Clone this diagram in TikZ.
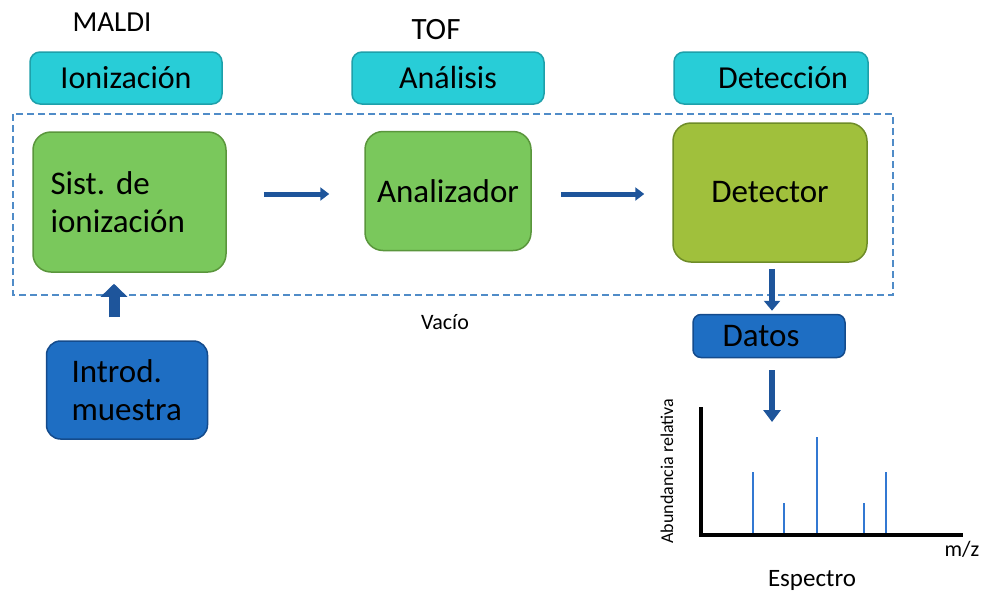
\documentclass[tikz,border=0pt]{standalone}
\usepackage{fontspec}
\setmainfont{Carlito}
\usetikzlibrary{arrows.meta, positioning}

\definecolor{phasecyan}{RGB}{40,205,215}
\definecolor{phaseedge}{RGB}{30,160,170}
\definecolor{unitgreen}{RGB}{122,200,92}
\definecolor{unitedge}{RGB}{90,150,60}
\definecolor{detgreen}{RGB}{160,192,60}
\definecolor{detedge}{RGB}{110,140,40}
\definecolor{boxblue}{RGB}{30,110,195}
\definecolor{boxedge}{RGB}{20,75,140}
\definecolor{flowblue}{RGB}{30,85,155}
\definecolor{vacuumblue}{RGB}{80,140,200}
\definecolor{peakblue}{RGB}{50,120,210}

\frenchspacing

\begin{document}
\begin{tikzpicture}[x=1pt,y=-1pt]


        % Setup the styles for the boxes and arrows
        \tikzset{phase style/.style={draw=phaseedge,
                                     fill=phasecyan,
                                     line width=1.5pt,
                                     rounded corners=10pt,
                                     minimum width=192pt,
                                     minimum height=52pt,
                                     font=\fontsize{32}{38}\selectfont},
                 unit style/.style={draw=unitedge,
                                    fill=unitgreen,
                                    line width=1.5pt,
                                    rounded corners=18pt,
                                    font=\fontsize{33}{38}\selectfont},
                 data style/.style={draw=boxedge,
                                    fill=boxblue,
                                    line width=1.5pt,
                                    font=\fontsize{33}{38}\selectfont},
                 flow style/.style={draw=flowblue,
                                    line width=5pt,
                                    -{Triangle[width=13pt,length=9pt]}},
                 label style/.style={font=\fontsize{#1}{#1}\selectfont}}

\useasboundingbox (0,0) rectangle (984,592);

% Add the phases
\node[label style=29] at (112,22) (maldi) {MALDI};
\node[label style=31] at (436,30) (tof) {TOF};
\node[phase style] at (126,78) (ion) {Ionización};
\node[phase style] at (448,78) (ana) {Análisis};
\node[phase style, minimum width=194pt] at (771,78) (dec) {\hspace*{24pt}Detección};

% Vacuum region
\draw[vacuumblue, line width=1.5pt, dash pattern=on 7pt off 4pt] (13,114) rectangle (893,295);
\node[label style=22] at (445,322) (vac) {Vacío};

% Add the units
\node[unit style, minimum height=140pt, text width=158pt, inner xsep=17.5pt, align=left]
      at (129.5,202) (sist) {Sist. de\\ionización};
\node[unit style, minimum width=166pt, minimum height=119pt] at (448,191) (anal) {Analizador};
\node[unit style, draw=detedge, fill=detgreen, minimum width=194pt, minimum height=139pt]
      at (770,192.5) (det) {Detector};
\node[data style, rounded corners=14pt, minimum height=98pt, text width=111pt, inner xsep=25pt, align=left]
      at (127,390) (intro) {Introd.\\muestra};
\node[data style, rounded corners=8pt, minimum width=152pt, minimum height=43pt]
      at (769,336) (datos) {\hspace*{-16pt}Datos};

% Spectrum
\coordinate (ytop) at (701,407);
\coordinate (orig) at (701,535);
\coordinate (xend) at (963,535);
\coordinate (spec) at (772,422);
\draw[line width=4pt] (ytop) -- (orig) -- (xend);
\foreach \px/\py in {753/472, 784/503, 817/437, 864/503, 886/472}
    \draw[peakblue, line width=2.5pt] (\px,533) -- (\px,\py);
\node[label style=22] at (962,549) (mz) {m/z};
\node[label style=25] at (812,580) (esp) {Espectro};
\node[label style=18, rotate=90] at (667,471) (abun) {Abundancia relativa};

% Add the arrows
\draw[flow style, shorten <=37pt, shorten >=35pt] (sist.east |- 0,194) -- (anal.west |- 0,194);
\draw[flow style, shorten <=29pt, shorten >=28pt] (anal.east |- 0,194) -- (det.west |- 0,194);
\draw[flow style, line width=11pt, -{Triangle[width=26pt,length=13pt]}, shorten <=23pt, shorten >=11pt]
      (intro.north -| 114,0) -- (sist.south -| 114,0);
\draw[flow style, line width=6pt, -{Triangle[width=16pt,length=10pt]}, shorten <=6pt, shorten >=3pt]
      (det.south -| 772,0) -- (datos.north -| 772,0);
\draw[flow style, line width=6pt, -{Triangle[width=17pt,length=12pt]}, shorten <=12pt]
      (datos.south -| spec) -- (spec);
\end{tikzpicture}
\end{document}
